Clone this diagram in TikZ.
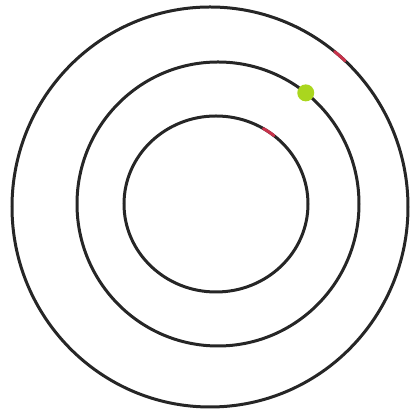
\documentclass[tikz,border=0pt]{standalone}
\definecolor{dotgreen}{RGB}{170,214,30}
\definecolor{markred}{RGB}{200,50,75}
\begin{document}
\begin{tikzpicture}[x=1pt, y=1pt,
    ring/.style={line width=3pt, draw=black!85},
    redmark/.style={line width=3pt, draw=markred, line cap=round},
    greendot/.style={circle, fill=dotgreen, inner sep=0pt, minimum size=17pt}]
    \useasboundingbox (0,0) rectangle (416,411);
    
    % Centres of the three rings
    \coordinate (outerc) at (210,204);
    \coordinate (middlec) at (218,207);
    \coordinate (innerc) at (216,207);
    
    % Rings
    \draw[ring] (outerc) ellipse [x radius=198, y radius=200];
    \draw[ring] (middlec) ellipse [x radius=141, y radius=142];
    \draw[ring] (innerc) ellipse [x radius=92, y radius=88];
    
    % Red marks on outer and inner ring
    \draw[redmark] ([shift={(47:198 and 200)}]outerc) arc[start angle=47, end angle=51, x radius=198, y radius=200];
    \draw[redmark] ([shift={(51:92 and 88)}]innerc) arc[start angle=51, end angle=59, x radius=92, y radius=88];
    
    % Green dot on middle ring
    \node[greendot] (dot) at ([shift={(51.5:141 and 142)}]middlec) {};
\end{tikzpicture}
\end{document}
